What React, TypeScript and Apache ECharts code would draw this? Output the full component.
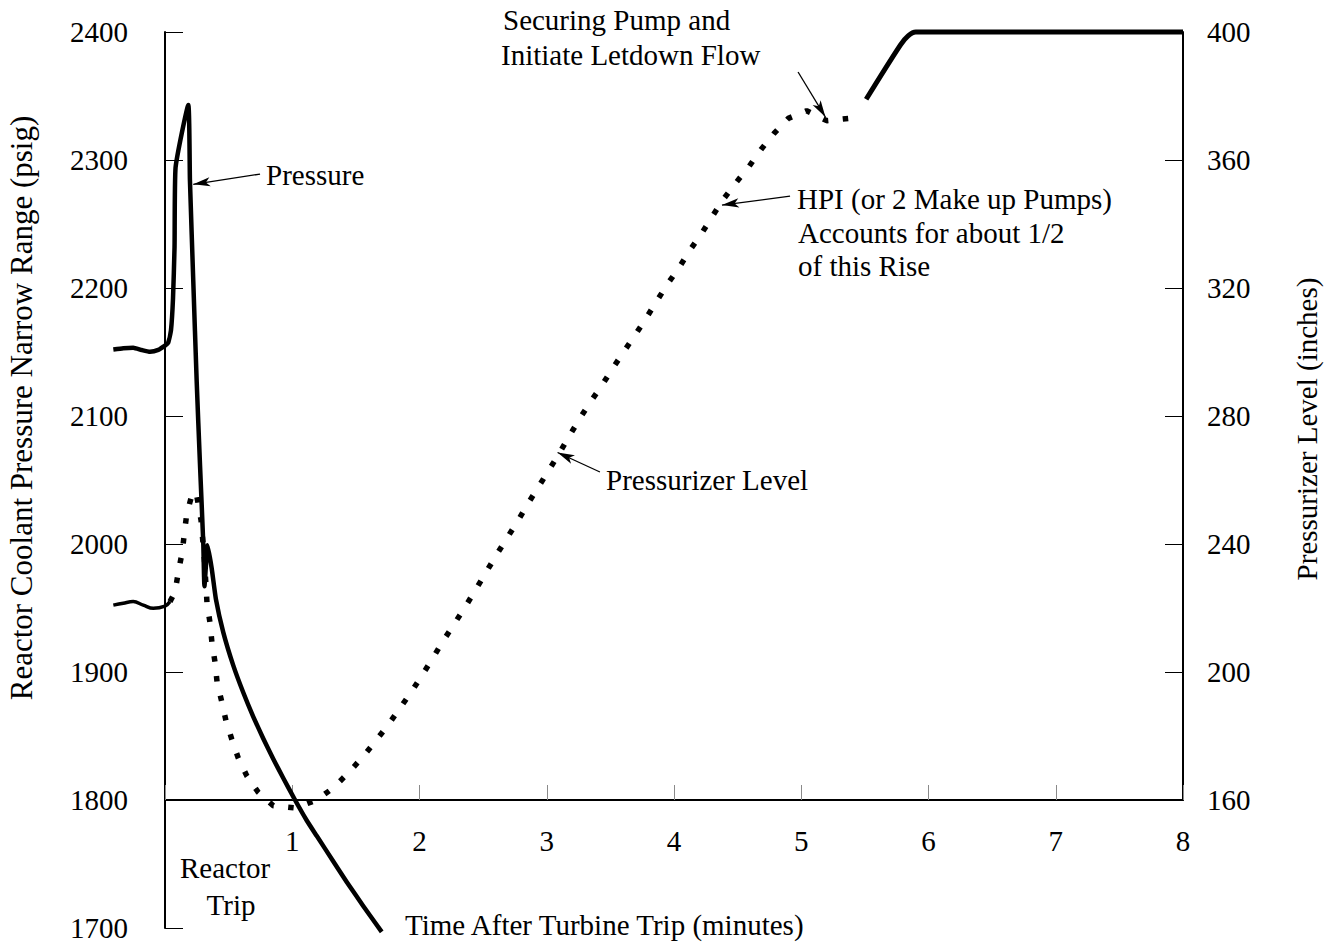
import React, { useEffect, useRef } from "react";
import * as echarts from "echarts";

// Time after turbine trip (minutes) and reactor coolant pressure (psig)
const pressureTime = [
  -0.406, -0.328, -0.25, -0.184, -0.118, -0.053, 0.0, 0.024, 0.047, 0.063, 0.075, 0.083,
  0.183, 0.196, 0.222, 0.249, 0.275, 0.301, 0.31, 0.335, 0.367, 0.4, 0.458, 0.537,
  0.615, 0.694, 0.772, 0.851, 0.93, 1.022, 1.114, 1.192, 1.323, 1.428, 1.559, 1.703,
];
const pressurePsig = [
  2152, 2153, 2153.4, 2151.6, 2150.2, 2151.6, 2155, 2157, 2167, 2192, 2232, 2294,
  2343, 2284, 2206, 2127, 2062, 2000, 1967, 1999, 1981, 1957, 1931, 1905,
  1884, 1865, 1848, 1832, 1817, 1800, 1784, 1772, 1752, 1736, 1717, 1697,
];

// Pressurizer level (inches) before the trip
const preTripTime = [-0.406, -0.328, -0.25, -0.171, -0.092, 0.0, 0.039];
const preTripLevel = [220.9, 221.5, 222.0, 220.9, 219.9, 220.6, 222.0];

// Pressurizer level (inches) after the trip
const levelTime = [
  0.039, 0.079, 0.105, 0.136, 0.152, 0.171, 0.21, 0.244, 0.283, 0.31, 0.33, 0.354,
  0.369, 0.393, 0.409, 0.446, 0.479, 0.524, 0.576, 0.642, 0.733, 0.851, 1.022, 1.192,
  1.323, 1.441, 1.551, 1.65, 1.747, 1.841, 1.931, 2.017, 2.104, 2.187, 2.273, 2.363,
  2.444, 2.528, 2.611, 2.693, 2.776, 2.855, 2.937, 3.02, 3.104, 3.183, 3.261, 3.345,
  3.432, 3.518, 3.602, 3.694, 3.78, 3.864, 3.95, 4.039, 4.126, 4.218, 4.304, 4.393,
  4.487, 4.592, 4.684, 4.786, 4.898, 5.043, 5.2, 5.37,
];
const levelInches = [
  222.0, 225.0, 231.3, 237.6, 243.3, 249.4, 255.1, 256.3, 247.5, 235.0, 221.6, 215.3,
  209.1, 203.1, 196.9, 190.7, 184.8, 179.1, 173.1, 167.6, 162.4, 158.2, 157.5, 160.0,
  163.8, 168.5, 173.3, 178.2, 183.1, 188.4, 193.5, 198.8, 204.3, 209.8, 215.0, 220.6,
  225.9, 231.5, 237.0, 242.2, 247.4, 252.8, 258.0, 263.3, 268.7, 274.1, 279.3, 284.5,
  289.5, 294.9, 299.9, 305.3, 310.5, 315.9, 321.3, 326.3, 331.9, 337.1, 342.6, 348.0,
  352.9, 358.1, 363.3, 368.3, 373.0, 375.4, 372.3, 373.0,
];

// Level after letdown is re-established, running up to the top of the scale
const offscaleTime = [5.51, 5.78, 5.84, 5.9, 8.0];
const offscaleLevel = [379, 396, 398.8, 400, 400];

// Axis ranges
const timeMin = 0;
const timeMax = 8;
const preTripMin = -1; // data grids start one minute before the trip
const pressureMin = 1700;
const pressureMax = 2400;
const levelMin = 160;
const levelMax = 400;

const FONT = "'Liberation Serif', 'Times New Roman', serif";
const W = 1335;
const AXIS_LEFT = 165;
const AXIS_RIGHT = 152;
const UNIT = (W - AXIS_LEFT - AXIS_RIGHT) / (timeMax - timeMin);
const DATA_LEFT = AXIS_LEFT - (timeMin - preTripMin) * UNIT;

const zip = (xs: number[], ys: number[]) => xs.map((x, i) => [x, ys[i]]);

const arrow = (from: number[], to: number[]) => [
  { coord: from, symbol: "none" },
  { coord: to, symbol: "arrow" },
];

const arrowStyle = {
  silent: true,
  symbol: ["none", "arrow"],
  symbolSize: [7, 17],
  label: { show: false },
  emphasis: { disabled: true },
  lineStyle: { color: "#000", width: 1.3, type: "solid" },
};

const txt = (text: string, x: number, y: number, align = "left", size = 29, rotation = 0) => ({
  type: "text",
  x,
  y,
  rotation,
  silent: true,
  style: {
    text,
    fill: "#000",
    fontSize: size,
    fontFamily: FONT,
    align,
    verticalAlign: "middle",
    textAlign: align,
    textVerticalAlign: "middle",
  },
});

export default function App() {
  const ref = useRef<HTMLDivElement>(null);

  useEffect(() => {
    if (!ref.current) return;
    const chart = echarts.init(ref.current, undefined, { renderer: "svg" });

    const labelStyle = {
      color: "#000",
      fontSize: 29,
      fontFamily: FONT,
      formatter: (v: number) => String(v),
    };
    const hiddenX = (gridIndex: number, min: number) => ({
      type: "value",
      gridIndex,
      min,
      max: timeMax,
      show: false,
    });
    const hiddenY = (gridIndex: number, min: number, max: number) => ({
      type: "value",
      gridIndex,
      min,
      max,
      show: false,
    });
    const axisLine = { show: true, onZero: false, lineStyle: { color: "#000", width: 2 } };

    chart.setOption({
      animation: false,
      backgroundColor: "#fff",
      grid: [
        // pressure data (includes pre-trip minute)
        { left: DATA_LEFT, right: AXIS_RIGHT, top: 32, bottom: 17 },
        // level data (includes pre-trip minute)
        { left: DATA_LEFT, right: AXIS_RIGHT, top: 32, bottom: 145 },
        // visible pressure axis
        { left: AXIS_LEFT, right: AXIS_RIGHT, top: 32, bottom: 17 },
        // visible time axis and level axis
        { left: AXIS_LEFT, right: AXIS_RIGHT, top: 32, bottom: 145 },
      ],
      xAxis: [
        hiddenX(0, preTripMin),
        hiddenX(1, preTripMin),
        hiddenX(2, timeMin),
        {
          type: "value",
          gridIndex: 3,
          min: timeMin,
          max: timeMax,
          interval: 1,
          position: "bottom",
          axisLine,
          axisTick: { show: true, inside: true, length: 15, lineStyle: { color: "#8a8a8a", width: 1 } },
          axisLabel: {
            ...labelStyle,
            margin: 26,
            formatter: (v: number) => (v === 0 ? "" : String(v)),
          },
          splitLine: { show: false },
        },
      ],
      yAxis: [
        hiddenY(0, pressureMin, pressureMax),
        hiddenY(1, levelMin, levelMax),
        {
          type: "value",
          gridIndex: 2,
          position: "left",
          min: pressureMin,
          max: pressureMax,
          interval: 100,
          axisLine,
          axisTick: { show: true, inside: true, length: 18, lineStyle: { color: "#000", width: 1 } },
          axisLabel: { ...labelStyle, margin: 37 },
          splitLine: { show: false },
        },
        {
          type: "value",
          gridIndex: 3,
          position: "right",
          min: levelMin,
          max: levelMax,
          interval: 40,
          axisLine,
          axisTick: { show: true, inside: true, length: 18, lineStyle: { color: "#000", width: 1 } },
          axisLabel: { ...labelStyle, margin: 24 },
          splitLine: { show: false },
        },
      ],
      series: [
        {
          name: "Pressurizer Level (before trip)",
          type: "line",
          xAxisIndex: 1,
          yAxisIndex: 1,
          data: zip(preTripTime, preTripLevel),
          smooth: 0.4,
          clip: false,
          showSymbol: false,
          lineStyle: { color: "#000", width: 3.5 },
          z: 3,
        },
        {
          name: "Pressurizer Level",
          type: "line",
          xAxisIndex: 1,
          yAxisIndex: 1,
          data: zip(levelTime, levelInches),
          clip: false,
          showSymbol: false,
          lineStyle: { color: "#000", width: 5.5, type: [5.5, 14.5], cap: "butt" },
          z: 2,
          markLine: {
            ...arrowStyle,
            data: [
              arrow([4.912, 348.7], [4.377, 345.9]),
              arrow([4.975, 387.5], [5.19, 373.4]),
              arrow([3.418, 262.5], [3.085, 268.6]),
            ],
          },
        },
        {
          name: "Pressurizer Level (letdown)",
          type: "line",
          xAxisIndex: 1,
          yAxisIndex: 1,
          data: zip(offscaleTime, offscaleLevel),
          smooth: 0.3,
          clip: false,
          showSymbol: false,
          lineStyle: { color: "#000", width: 5 },
          z: 3,
        },
        {
          name: "Pressure",
          type: "line",
          xAxisIndex: 0,
          yAxisIndex: 0,
          data: zip(pressureTime, pressurePsig),
          smooth: 0.15,
          clip: false,
          showSymbol: false,
          lineStyle: { color: "#000", width: 4.5, join: "miter" },
          z: 4,
          markLine: {
            ...arrowStyle,
            data: [arrow([0.747, 2289], [0.222, 2281])],
          },
        },
      ],
      graphic: [
        txt("Reactor Coolant Pressure Narrow Range (psig)", 21, 408, "center", 31, Math.PI / 2),
        txt("Pressurizer Level (inches)", 1307, 429, "center", 29, Math.PI / 2),
        txt("Pressure", 266, 175),
        txt("Securing Pump and", 503, 20),
        txt("Initiate Letdown Flow", 501, 55),
        txt("HPI (or 2 Make up Pumps)", 797, 199),
        txt("Accounts for about 1/2", 798, 233),
        txt("of this Rise", 798, 266),
        txt("Pressurizer Level", 606, 480),
        txt("Reactor", 225, 868, "center"),
        txt("Trip", 231, 905, "center"),
        txt("Time After Turbine Trip (minutes)", 405, 925),
      ],
    });

    return () => chart.dispose();
  }, []);

  return (
    <div
      ref={ref}
      style={{ position: "absolute", left: 0, top: 0, width: W, height: 945, background: "#fff" }}
    />
  );
}
